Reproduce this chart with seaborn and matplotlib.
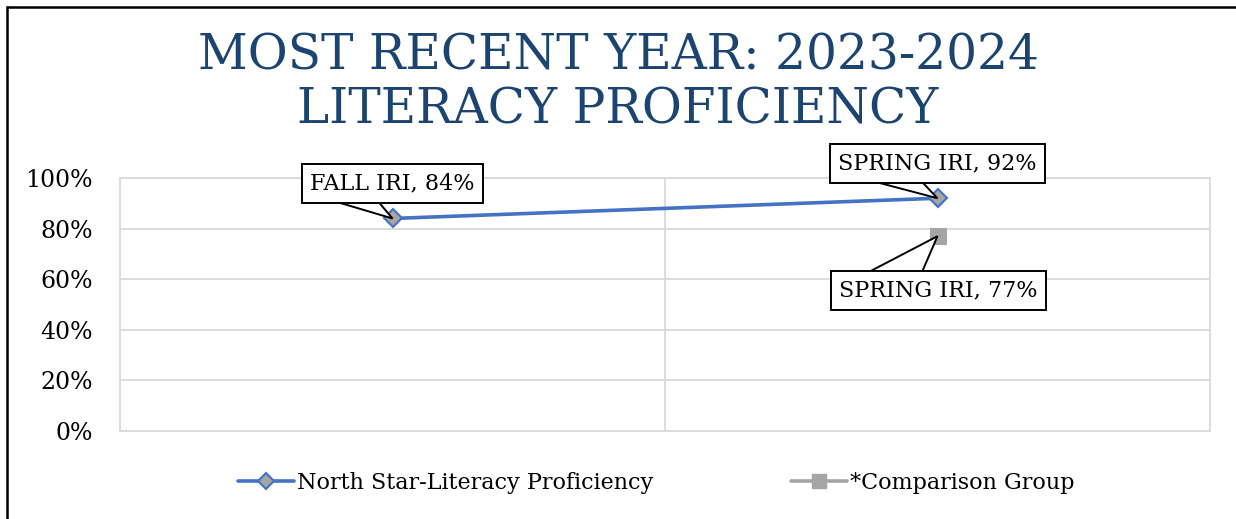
import matplotlib
matplotlib.use("Agg")
import matplotlib.pyplot as plt
import matplotlib.transforms as mtransforms
from matplotlib.patches import Polygon
import seaborn as sns
import pandas as pd
from matplotlib.lines import Line2D
from matplotlib.ticker import PercentFormatter

# ---- data ----
categories = ["FALL IRI", "SPRING IRI"]
north_star = [0.84, 0.92]
comparison_categories = ["SPRING IRI"]
comparison = [0.77]
series_names = ["North Star-Literacy Proficiency", "*Comparison Group"]
title_lines = ["MOST RECENT YEAR: 2023-2024", "LITERACY PROFICIENCY"]
y_ticks = [0, 0.2, 0.4, 0.6, 0.8, 1.0]

sns.set_theme(style="white")
plt.rcParams["font.family"] = ["DejaVu Serif"]

BLUE = "#4472C4"
GRAY = "#A5A5A5"
GRID = "#D9D9D9"
TITLE = "#1B4570"

fig = plt.figure(figsize=(12.36, 5.19), dpi=100)
ax = fig.add_axes([120/1236, 1-431/519, 1090/1236, 253/519])

df1 = pd.DataFrame({"cat": categories, "val": north_star})
df2 = pd.DataFrame({"cat": comparison_categories, "val": comparison})

sns.lineplot(data=df1, x="cat", y="val", ax=ax, sort=False, color=BLUE,
             linewidth=2.6, marker="D", markersize=9,
             markerfacecolor=GRAY, markeredgecolor=BLUE, markeredgewidth=1.5,
             label=series_names[0], zorder=3)
sns.lineplot(data=df2, x="cat", y="val", ax=ax, sort=False, color=GRAY,
             linewidth=2.6, marker="s", markersize=11,
             markerfacecolor=GRAY, markeredgecolor=GRAY,
             label=series_names[1], zorder=3)

ax.set_xlim(-0.5, 1.5)
ax.set_ylim(0, 1)
ax.set_yticks(y_ticks)
ax.yaxis.set_major_formatter(PercentFormatter(1.0, decimals=0))
ax.set_xticks([])
ax.set_xlabel("")
ax.set_ylabel("")
ax.tick_params(axis="y", length=0, labelsize=17, pad=19.5)
for lab in ax.get_yticklabels():
    lab.set_color("black")
ax.grid(axis="y", color=GRID, linewidth=1.3)
ax.axvline(0.5, color=GRID, linewidth=1.3, zorder=0)
for s in ax.spines.values():
    s.set_color(GRID)
    s.set_linewidth(1.3)
ax.set_axisbelow(True)

# data callouts: (x, y, text, text offset px, wedge base px offsets)
callouts = [
    (0, north_star[0], f"{categories[0]}, {north_star[0]:.0%}", (0, 35), (-64, -16, 19)),
    (1, north_star[1], f"{categories[1]}, {north_star[1]:.0%}", (0, 35), (-72, -18, 19)),
    (1, comparison[0], f"{comparison_categories[0]}, {comparison[0]:.0%}", (1, -54), (-71, -16, -37)),
]
for x, y, txt, off, (bx0, bx1, by) in callouts:
    ax.annotate(txt, xy=(x, y), xytext=off, textcoords="offset pixels",
                ha="center", va="center", fontsize=16, color="black",
                bbox=dict(boxstyle="square,pad=0.38", fc="white", ec="black", lw=1.4),
                zorder=6)
    trans = mtransforms.Affine2D() + mtransforms.ScaledTranslation(x, y, ax.transData)
    wedge = Polygon([(0, 0), (bx0, by), (bx1, by)], closed=True, transform=trans,
                    fc="white", ec="black", lw=1.4, zorder=5, clip_on=False,
                    joinstyle="miter")
    ax.add_patch(wedge)

if ax.legend_:
    ax.legend_.remove()
handles = [
    Line2D([0], [0], color=BLUE, lw=2.6, marker="D", markersize=8.5,
           markerfacecolor=GRAY, markeredgecolor=BLUE, markeredgewidth=1.5),
    Line2D([0], [0], color=GRAY, lw=2.6, marker="s", markersize=10,
           markerfacecolor=GRAY, markeredgecolor=GRAY),
]
leg = fig.legend(handles, series_names, loc="center", bbox_to_anchor=(0.531, 1-483/519),
                 ncol=2, frameon=False, fontsize=16, handlelength=2.5,
                 handletextpad=0.15, columnspacing=6.2)
for t in leg.get_texts():
    t.set_color("black")

# title
fig.text(0.5, 1-70/519, title_lines[0], ha="center", va="baseline",
         fontsize=35, color=TITLE)
fig.text(0.5, 1-124/519, title_lines[1], ha="center", va="baseline",
         fontsize=35, color=TITLE)

# partial frame border
x0 = 6.5/1236
y0 = 1-7/519
fig.add_artist(Line2D([x0, 1.01], [y0, y0], transform=fig.transFigure, color="black", lw=1.8))
fig.add_artist(Line2D([x0, x0], [y0, -0.01], transform=fig.transFigure, color="black", lw=1.8))

fig.savefig("out.png", dpi=100)
